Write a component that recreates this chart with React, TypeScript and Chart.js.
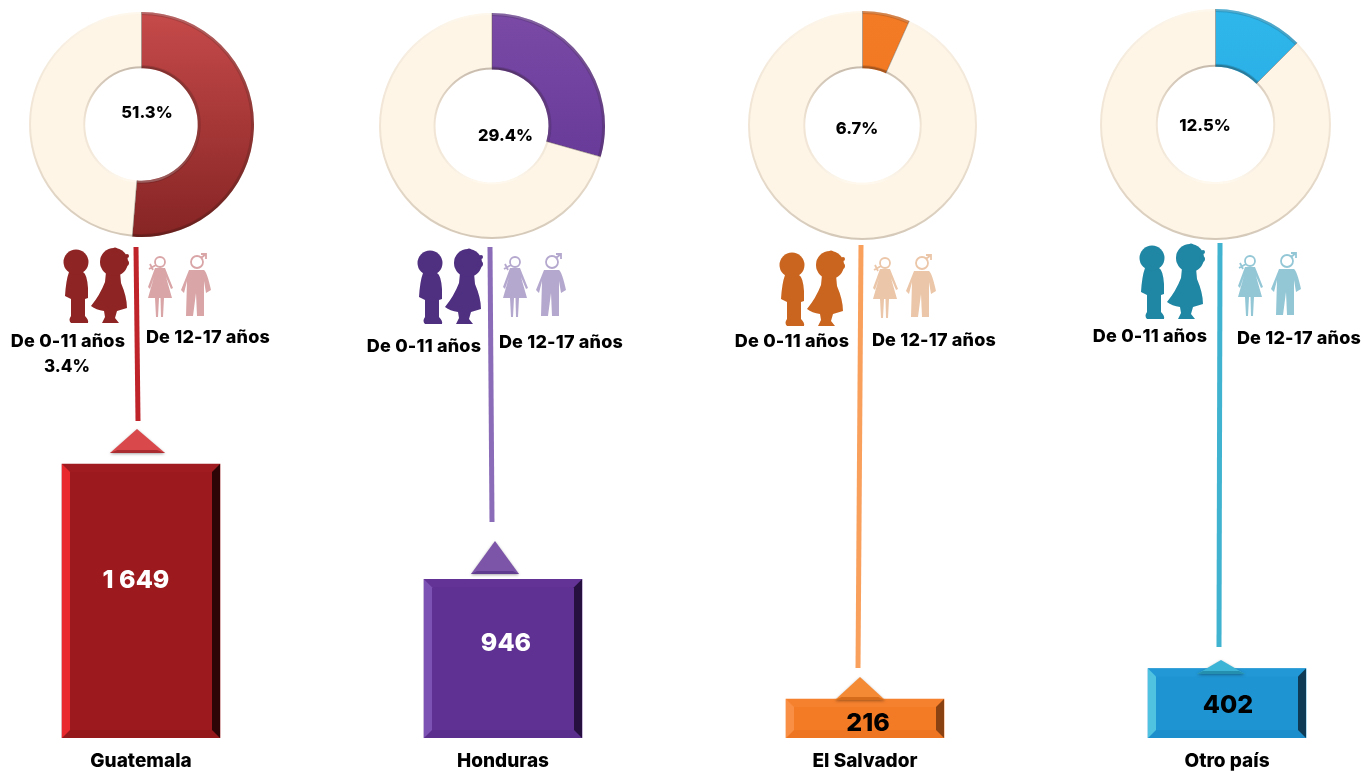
import React, { useEffect, useRef } from "react";
import { Chart, registerables } from "chart.js";

Chart.register(...registerables);

// ---- data ----
const categories = ["Guatemala", "Honduras", "El Salvador", "Otro país"];
const totals = [1649, 946, 216, 402];
const totalLabels = ["1\u00A0649", "946", "216", "402"];
const shares = [51.3, 29.4, 6.7, 12.5];
const shareLabels = ["51.3%", "29.4%", "6.7%", "12.5%"];
const youngLabel = "De 0-11 años";
const olderLabel = "De 12-17 años";
const youngNotes = ["3.4%", "", "", ""];

// ---- layout and style ----
const FONT = "Inter, 'Noto Sans', sans-serif";
const PAD = 5;
const donutBoxes = [
  { cx: 141.5, cy: 124.5, r: 112.5 },
  { cx: 491.5, cy: 126, r: 113 },
  { cx: 862.5, cy: 125, r: 114.5 },
  { cx: 1215.5, cy: 124, r: 115.5 },
];
const shareTextPos = [[147, 112], [505, 135], [857, 128], [1205, 125]];
const barFill = ["#9C1A1E", "#5F3192", "#F47B26", "#1E94D2"];
const bevelLeft = ["#E8282C", "#7C52B4", "#F98F45", "#4FC3E0"];
const bevelRight = ["#2E0507", "#26103F", "#8A4212", "#0E3A55"];
const bevelTop = ["#A01B1F", "#633496", "#F5812E", "#2298D6"];
const bevelBottom = ["#941719", "#5A2E8C", "#EE7522", "#1C8ECB"];
const ringTop = ["#C64A4A", "#7A4AA6", "#F47B26", "#2FB6EA"];
const ringBottom = ["#862424", "#5F3292", "#EE7420", "#22A6E0"];
const cream = "#FEF5E6";
const lineColor = ["#C0242B", "#8A6CB8", "#F9A05D", "#3FB3CF"];
const kidColor = ["#8F2424", "#4F2F80", "#C9651F", "#1F86A3"];
const adultColor = ["#D9A5A7", "#B5A8CE", "#EBC6A8", "#93C7D6"];
const triFill = ["#D9484A", "#7D55A8", "#F58A34", "#3CB4D6"];
const triDark = ["#A82C30", "#5F3C8E", "#D56C1C", "#258FB0"];
const totalTextColor = ["#FFFFFF", "#FFFFFF", "#000000", "#000000"];
const totalTextPos = [[136, 580], [506, 643], [868, 723], [1228, 705]];
const connectors = [
  [136, 247, 138, 421],
  [490, 247, 492, 522],
  [861, 245, 858, 668],
  [1220, 243, 1219, 647],
];
const triangles = [
  [137, 429, 110, 165, 453],
  [495, 541, 471, 519, 574],
  [860, 677, 835, 885, 700],
  [1221, 660, 1197, 1245, 674],
];
const kidShift = [[0, 0], [354, 1], [716, 3], [1076, -4]];
const adultShift = [[0, 0], [355, 0], [725, 1], [1090, -1]];
const youngTextPos = [[68, 342], [424, 347], [792, 342], [1150, 337]];
const olderTextPos = [[208, 338], [561, 343], [934, 341], [1299, 339]];
const noteTextPos = [[67, 367]];
const BAR_CANVAS_LEFT = -40;

const kidPaths = [
  "M69 272 L83 272 Q87 274 88 288 L88 298 L85 299 L85 316 Q89 320 88 323 L71 323 Q68 320 71 316 L71 299 L65 296 Q66 280 69 272 Z",
  "M106 272 L120 272 L121 283 Q127 297 127 308 L117 311 L115 318 L119 323 L102 323 L105 317 L104 311 Q96 310 91 306 Q100 295 105 282 Z",
];
const womanPath =
  "M155 268 L165 268 L173 288 L171 289 L166 277 L172 298 L164 298 L163 317 L161 317 L160.5 298 L159 298 L158 317 L156 317 L155 298 L148 298 L154 277 L150 289 L148 287 Z";
const manPath =
  "M189 270 L204 270 Q207 272 211 290 L206 293 L204 281 L204 316 L197 316 L196 293 L193 316 L186 316 L187 281 L184 293 L181 290 Z";

function drawFigures(ctx: CanvasRenderingContext2D, i: number) {
  ctx.save();
  ctx.translate(kidShift[i][0], kidShift[i][1]);
  ctx.fillStyle = kidColor[i];
  kidPaths.forEach((d) => ctx.fill(new Path2D(d)));
  [[76, 262, 12.5], [114, 262, 14], [115, 250, 2.5], [126, 263, 3], [127, 256, 2]].forEach(([x, y, r]) => {
    ctx.beginPath();
    ctx.arc(x, y, r, 0, Math.PI * 2);
    ctx.fill();
  });
  ctx.restore();

  ctx.save();
  ctx.translate(adultShift[i][0], adultShift[i][1]);
  ctx.fillStyle = adultColor[i];
  ctx.strokeStyle = adultColor[i];
  ctx.lineWidth = 1.8;
  ctx.fill(new Path2D(womanPath));
  ctx.fill(new Path2D(manPath));
  ctx.beginPath();
  ctx.arc(160, 262, 5, 0, Math.PI * 2);
  ctx.moveTo(156, 265);
  ctx.lineTo(149, 269);
  ctx.moveTo(150, 264);
  ctx.lineTo(153, 270);
  ctx.moveTo(203, 262);
  ctx.arc(197, 262, 6, 0, Math.PI * 2);
  ctx.moveTo(201, 258);
  ctx.lineTo(206, 254);
  ctx.moveTo(201, 254);
  ctx.lineTo(206, 254);
  ctx.lineTo(206, 259);
  ctx.stroke();
  ctx.restore();
}

function drawTriangle(ctx: CanvasRenderingContext2D, i: number) {
  const [ax, ay, lx, rx, by] = triangles[i];
  ctx.save();
  ctx.shadowColor = "rgba(0,0,0,0.35)";
  ctx.shadowBlur = 3;
  ctx.shadowOffsetY = 1;
  ctx.fillStyle = triFill[i];
  ctx.beginPath();
  ctx.moveTo(ax, ay);
  ctx.lineTo(rx, by);
  ctx.lineTo(lx, by);
  ctx.closePath();
  ctx.fill();
  ctx.restore();
  ctx.fillStyle = triDark[i];
  ctx.beginPath();
  ctx.moveTo(lx, by);
  ctx.lineTo(rx, by);
  ctx.lineTo((ax + rx) / 2 + 6, by - 3);
  ctx.lineTo((ax + lx) / 2 - 6, by - 3);
  ctx.closePath();
  ctx.fill();
}

const barDecor = {
  id: "barDecor",
  afterDatasetsDraw(chart: any) {
    const ctx: CanvasRenderingContext2D = chart.ctx;
    const meta = chart.getDatasetMeta(0);
    const b = 8;
    meta.data.forEach((el: any, i: number) => {
      const l = el.x - el.width / 2;
      const r = el.x + el.width / 2;
      const t = el.y;
      const bt = el.base;
      const quad = (pts: number[][], fill: string) => {
        ctx.fillStyle = fill;
        ctx.beginPath();
        pts.forEach(([x, y], k) => (k ? ctx.lineTo(x, y) : ctx.moveTo(x, y)));
        ctx.closePath();
        ctx.fill();
      };
      quad([[l, t], [r, t], [r - b, t + b], [l + b, t + b]], bevelTop[i]);
      quad([[l, bt], [r, bt], [r - b, bt - b], [l + b, bt - b]], bevelBottom[i]);
      quad([[l, t], [l + b, t + b], [l + b, bt - b], [l, bt]], bevelLeft[i]);
      quad([[r, t], [r - b, t + b], [r - b, bt - b], [r, bt]], bevelRight[i]);
    });

    ctx.save();
    // the whole layer below is in page coordinates
    ctx.translate(-BAR_CANVAS_LEFT, 0);
    categories.forEach((_, i) => {
      const [x1, y1, x2, y2] = connectors[i];
      ctx.strokeStyle = lineColor[i];
      ctx.lineWidth = 5;
      ctx.beginPath();
      ctx.moveTo(x1, y1);
      ctx.lineTo(x2, y2);
      ctx.stroke();
      drawTriangle(ctx, i);
      drawFigures(ctx, i);

      ctx.textAlign = "center";
      ctx.textBaseline = "middle";
      ctx.fillStyle = "#000";
      ctx.font = `800 18px ${FONT}`;
      (ctx as any).letterSpacing = "0.2px";
      ctx.fillText(youngLabel, youngTextPos[i][0], youngTextPos[i][1]);
      ctx.fillText(olderLabel, olderTextPos[i][0], olderTextPos[i][1]);
      if (youngNotes[i] && noteTextPos[i]) {
        ctx.font = `800 17px ${FONT}`;
        (ctx as any).letterSpacing = "0px";
        ctx.fillText(youngNotes[i], noteTextPos[i][0], noteTextPos[i][1]);
      }
      (ctx as any).letterSpacing = "0px";
      ctx.fillStyle = totalTextColor[i];
      ctx.font = `800 25px ${FONT}`;
      ctx.fillText(totalLabels[i], totalTextPos[i][0], totalTextPos[i][1]);
    });
    ctx.restore();
  },
};

const donutDecor = {
  id: "donutDecor",
  afterDatasetsDraw(chart: any, _args: any, opts: any) {
    const ctx: CanvasRenderingContext2D = chart.ctx;
    const arcs = chart.getDatasetMeta(0).data;
    const { x, y, outerRadius: R, innerRadius: r } = arcs[0];
    const i: number = opts.index;
    const rim = ctx.createLinearGradient(0, y - R, 0, y + R);
    rim.addColorStop(0, "rgba(255,255,255,0.25)");
    rim.addColorStop(0.5, "rgba(150,120,100,0.12)");
    rim.addColorStop(1, "rgba(60,40,20,0.22)");
    ctx.strokeStyle = rim;
    ctx.lineWidth = 2;
    ctx.beginPath();
    ctx.arc(x, y, R - 1, 0, Math.PI * 2);
    ctx.stroke();
    const rimIn = ctx.createLinearGradient(0, y - r, 0, y + r);
    rimIn.addColorStop(0, "rgba(60,40,30,0.28)");
    rimIn.addColorStop(0.5, "rgba(150,120,100,0.12)");
    rimIn.addColorStop(1, "rgba(255,255,255,0.3)");
    ctx.strokeStyle = rimIn;
    ctx.beginPath();
    ctx.arc(x, y, r + 1, 0, Math.PI * 2);
    ctx.stroke();

    // darker bevel along the coloured sector
    const a = arcs[0];
    ctx.strokeStyle = "rgba(0,0,0,0.14)";
    ctx.lineWidth = 3;
    ctx.beginPath();
    ctx.arc(x, y, R - 1.5, a.startAngle, a.endAngle);
    ctx.stroke();
    ctx.beginPath();
    ctx.arc(x, y, r + 1.5, a.startAngle, a.endAngle);
    ctx.stroke();
    ctx.strokeStyle = "rgba(90,80,70,0.45)";
    ctx.lineWidth = 1;
    [a.startAngle, a.endAngle].forEach((ang: number) => {
      ctx.beginPath();
      ctx.moveTo(x + r * Math.cos(ang), y + r * Math.sin(ang));
      ctx.lineTo(x + R * Math.cos(ang), y + R * Math.sin(ang));
      ctx.stroke();
    });

    ctx.fillStyle = "#000";
    ctx.font = `800 16.5px ${FONT}`;
    ctx.textAlign = "center";
    ctx.textBaseline = "middle";
    const box = donutBoxes[i];
    ctx.fillText(
      shareLabels[i],
      shareTextPos[i][0] - (box.cx - box.r - PAD),
      shareTextPos[i][1] + 1 - (box.cy - box.r - PAD)
    );
  },
};

export default function App() {
  const barRef = useRef<HTMLCanvasElement>(null);
  const donutRefs = useRef<(HTMLCanvasElement | null)[]>([]);

  useEffect(() => {
    const charts: Chart[] = [];
    charts.push(
      new Chart(barRef.current!, {
        type: "bar",
        data: {
          labels: categories,
          datasets: [
            {
              data: totals,
              backgroundColor: barFill,
              barThickness: 158,
              borderWidth: 0,
              base: -22,
            } as any,
          ],
        },
        options: {
          animation: false,
          responsive: false,
          layout: { padding: 0 },
          plugins: { legend: { display: false }, tooltip: { enabled: false } },
          scales: {
            x: {
              afterFit: (s: any) => {
                s.height = 33;
              },
              border: { display: false },
              grid: { display: false, drawTicks: false },
              ticks: {
                padding: 12,
                color: "#000",
                maxRotation: 0,
                font: { family: FONT, size: 19, weight: 800 },
              },
            },
            y: { display: false, min: -22, max: 4478 },
          },
        },
        plugins: [barDecor],
      })
    );

    shares.forEach((share, i) => {
      charts.push(
        new Chart(donutRefs.current[i]!, {
          type: "doughnut",
          data: {
            labels: [categories[i], "Resto"],
            datasets: [
              {
                data: [share, 100 - share],
                borderWidth: 0,
                backgroundColor: (c: any) => {
                  if (c.dataIndex === 1) return cream;
                  const a = c.chart.chartArea;
                  if (!a) return ringBottom[i];
                  const g = c.chart.ctx.createLinearGradient(0, a.top, 0, a.bottom);
                  g.addColorStop(0, ringTop[i]);
                  g.addColorStop(1, ringBottom[i]);
                  return g;
                },
              },
            ],
          },
          options: {
            animation: false,
            responsive: false,
            cutout: "50%",
            layout: { padding: PAD },
            plugins: {
              legend: { display: false },
              tooltip: { enabled: false },
              donutDecor: { index: i },
            } as any,
          },
          plugins: [donutDecor],
        })
      );
    });
    return () => charts.forEach((c) => c.destroy());
  }, []);

  return (
    <div
      style={{
        position: "fixed",
        left: 0,
        top: 0,
        width: 1363,
        height: 771,
        overflow: "hidden",
        background: "#fff",
      }}
    >
      <canvas
        ref={barRef}
        width={1448}
        height={771}
        style={{ position: "absolute", left: BAR_CANVAS_LEFT, top: 0, width: 1448, height: 771 }}
      />
      {donutBoxes.map((b, i) => {
        const size = 2 * b.r + 2 * PAD;
        return (
          <canvas
            key={categories[i]}
            ref={(el) => {
              donutRefs.current[i] = el;
            }}
            width={size}
            height={size}
            style={{
              position: "absolute",
              left: b.cx - b.r - PAD,
              top: b.cy - b.r - PAD,
              width: size,
              height: size,
            }}
          />
        );
      })}
    </div>
  );
}
